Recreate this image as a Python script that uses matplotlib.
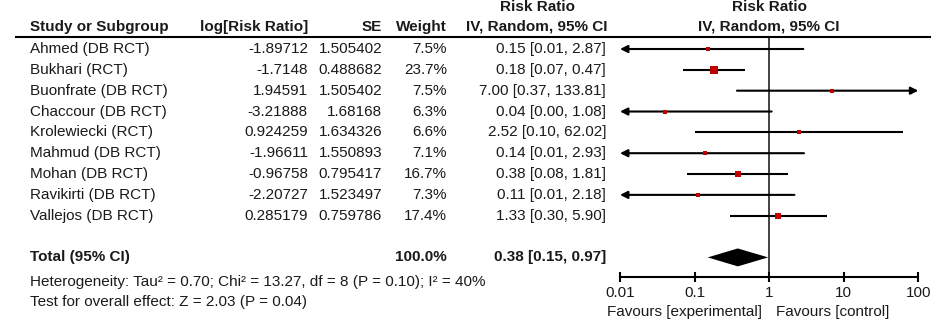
import matplotlib
matplotlib.use("Agg")
import matplotlib.pyplot as plt
import matplotlib.transforms as mtransforms
from matplotlib.lines import Line2D
import numpy as np

plt.rcParams['font.family'] = ['Liberation Sans', 'DejaVu Sans']

# study data
studies = ["Ahmed (DB RCT)", "Bukhari (RCT)", "Buonfrate (DB RCT)", "Chaccour (DB RCT)",
           "Krolewiecki (RCT)", "Mahmud (DB RCT)", "Mohan (DB RCT)", "Ravikirti (DB RCT)",
           "Vallejos (DB RCT)"]
log_rr = ["-1.89712", "-1.7148", "1.94591", "-3.21888", "0.924259", "-1.96611",
          "-0.96758", "-2.20727", "0.285179"]
se = ["1.505402", "0.488682", "1.505402", "1.68168", "1.634326", "1.550893",
      "0.795417", "1.523497", "0.759786"]
weight = [7.5, 23.7, 7.5, 6.3, 6.6, 7.1, 16.7, 7.3, 17.4]
rr = [0.15, 0.18, 7.00, 0.04, 2.52, 0.14, 0.38, 0.11, 1.33]
ci_lo = [0.01, 0.07, 0.37, 0.00, 0.10, 0.01, 0.08, 0.01, 0.30]
ci_hi = [2.87, 0.47, 133.81, 1.08, 62.02, 2.93, 1.81, 2.18, 5.90]

# pooled random-effects estimate
total_weight = 100.0
total_rr, total_lo, total_hi = 0.38, 0.15, 0.97
heterogeneity = "Heterogeneity: Tau\u00b2 = 0.70; Chi\u00b2 = 13.27, df = 8 (P = 0.10); I\u00b2 = 40%"
overall = "Test for overall effect: Z = 2.03 (P = 0.04)"

xticks = [0.01, 0.1, 1, 10, 100]
xticklabels = ["0.01", "0.1", "1", "10", "100"]
XMIN, XMAX = 0.01, 100

W, H = 931, 327
fig = plt.figure(figsize=(W / 100, H / 100), dpi=100)
ax = fig.add_axes([620 / W, (H - 276.7) / H, (918.3 - 620) / W, (276.7 - 37) / H])
ax.set_xscale("log")
ax.set_xlim(XMIN, XMAX)
ax.set_ylim(10.926, -0.576)

TXT = "#1a1a1a"
RED = "#c00000"
FS = 11
tr = mtransforms.blended_transform_factory(fig.transFigure, ax.transData)


def txt(xpx, y, s, ha="left", bold=False):
    ax.text(xpx / W, y, s, transform=tr, ha=ha, va="center", fontsize=FS, color=TXT,
            fontweight="bold" if bold else "normal", clip_on=False)


def arrow(x_from, x_to, y):
    ax.annotate("", xy=(x_to, y), xytext=(x_from, y), annotation_clip=False,
                arrowprops=dict(arrowstyle="-|>", color="black", lw=1.5,
                                mutation_scale=11, shrinkA=0, shrinkB=0))


# column headers
txt(30, -1.056, "Study or Subgroup", bold=True)
txt(308, -1.056, "log[Risk Ratio]", ha="right", bold=True)
txt(382, -1.056, "SE", ha="right", bold=True)
txt(447, -1.056, "Weight", ha="right", bold=True)
txt(537, -2.015, "Risk Ratio", ha="center", bold=True)
txt(537, -1.056, "IV, Random, 95% CI", ha="center", bold=True)
txt(769, -2.015, "Risk Ratio", ha="center", bold=True)
txt(769, -1.056, "IV, Random, 95% CI", ha="center", bold=True)
fig.add_artist(Line2D([16 / W, 1], [(H - 37) / H] * 2, color="black", lw=1.5))

# study rows
for i, name in enumerate(studies):
    txt(30, i, name)
    txt(308, i, log_rr[i], ha="right")
    txt(382, i, se[i], ha="right")
    txt(447, i, f"{weight[i]:.1f}%", ha="right")
    txt(606, i, f"{rr[i]:.2f} [{ci_lo[i]:.2f}, {ci_hi[i]:.2f}]", ha="right")

    a = max(ci_lo[i], XMIN)
    b = min(ci_hi[i], XMAX)
    if ci_lo[i] <= XMIN:
        arrow(b, a, i)
    elif ci_hi[i] >= XMAX:
        arrow(a, b, i)
    else:
        ax.plot([a, b], [i, i], color="black", lw=1.5, solid_capstyle="butt")
    ax.plot(rr[i], i, "s", color=RED, ms=1.08 * np.sqrt(weight[i]), mew=0, zorder=5)

# total row
total_y = 10
txt(30, total_y, "Total (95% CI)", bold=True)
txt(447, total_y, f"{total_weight:.1f}%", ha="right", bold=True)
txt(606, total_y, f"{total_rr:.2f} [{total_lo:.2f}, {total_hi:.2f}]", ha="right", bold=True)
ax.fill([total_lo, total_rr, total_hi, total_rr],
        [total_y, total_y - 0.43, total_y, total_y + 0.43], color="black", lw=0)

txt(30, 11.16, heterogeneity)
txt(30, 12.12, overall)

# line of no effect
ax.axvline(1, color="#333333", lw=1.3, zorder=1)

# bottom axis
for s in ["top", "left", "right"]:
    ax.spines[s].set_visible(False)
ax.spines["bottom"].set_linewidth(1.5)
ax.set_yticks([])
ax.set_xticks(xticks)
ax.set_xticklabels(xticklabels)
ax.minorticks_off()
ax.tick_params(axis="x", direction="inout", length=7, width=1.5, pad=3.5,
               labelsize=FS, labelcolor=TXT)

txt(761.7, 12.6, "Favours [experimental]", ha="right")
txt(776, 12.6, "Favours [control]")

fig.savefig("out.png", dpi=100)
